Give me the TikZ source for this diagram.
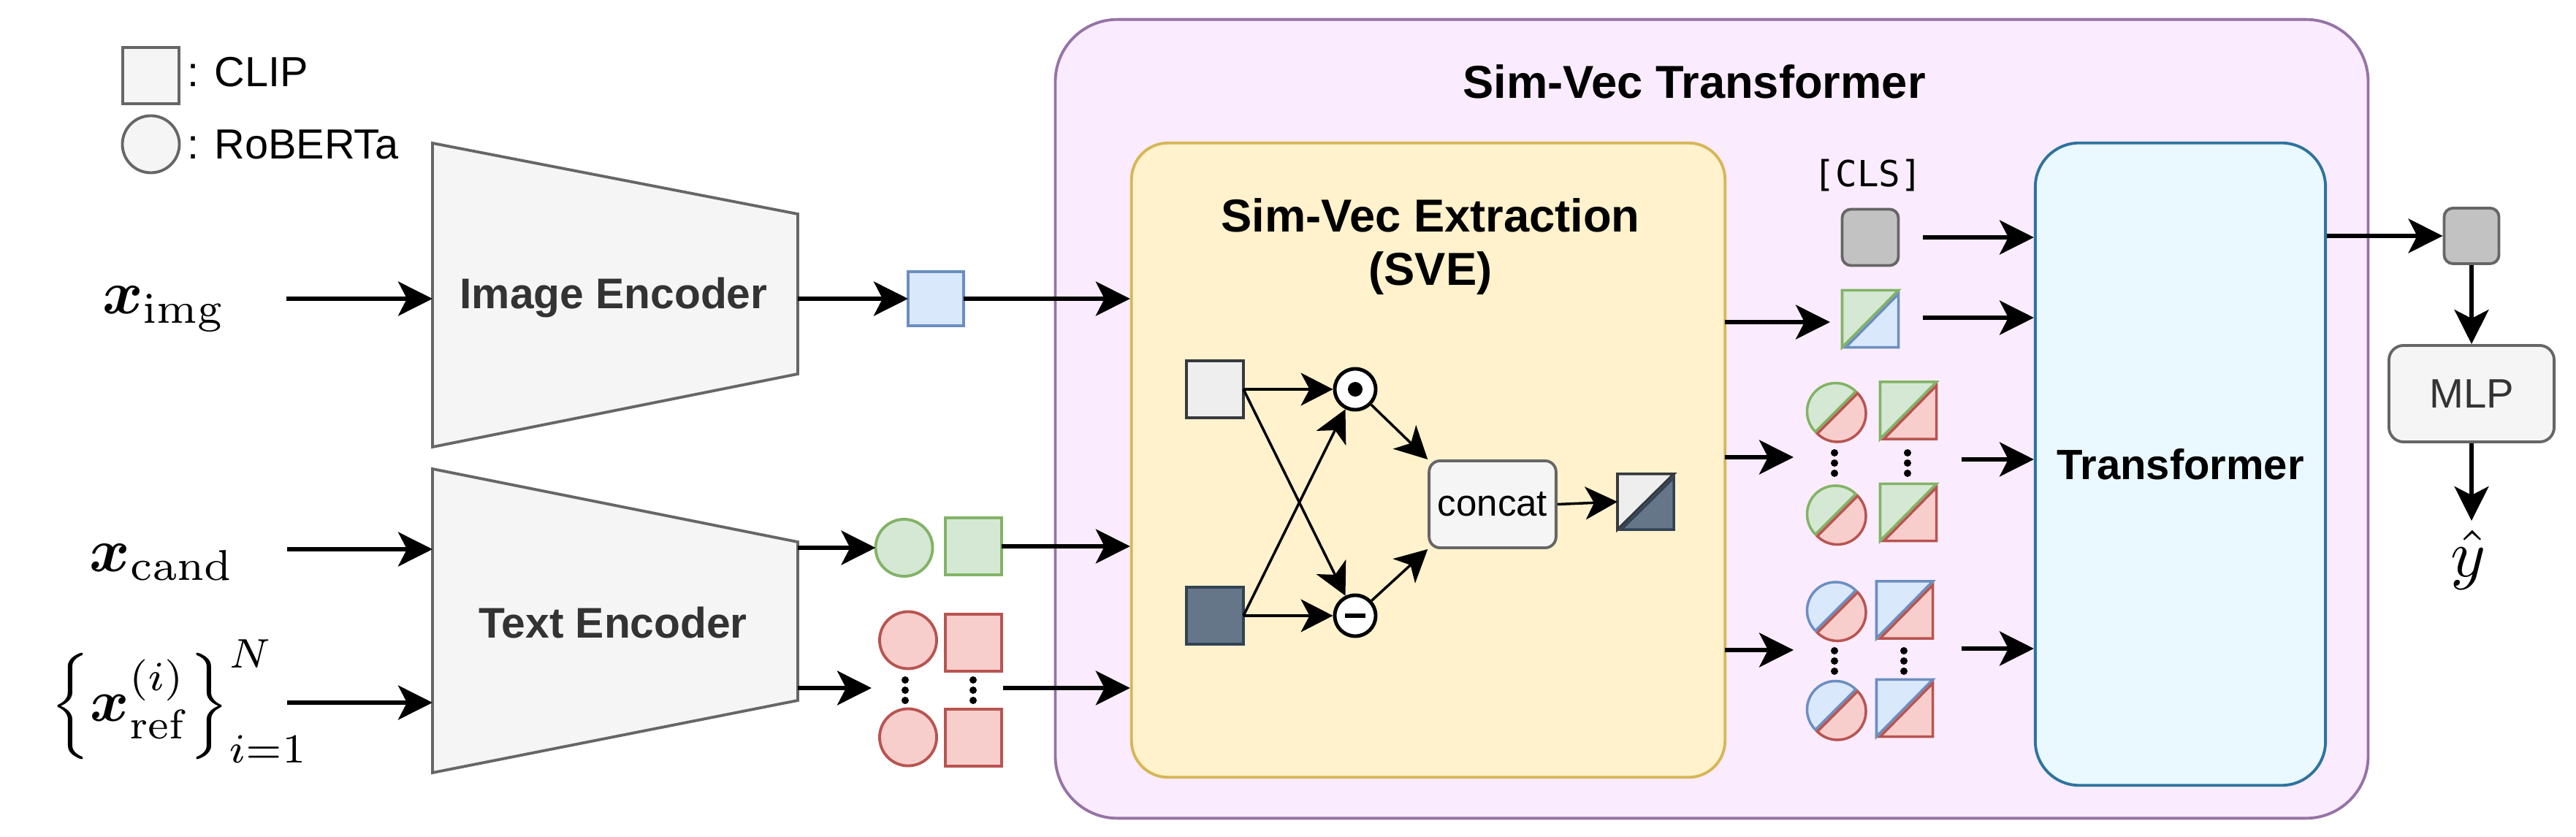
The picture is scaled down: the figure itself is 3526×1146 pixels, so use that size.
\documentclass[tikz,border=0pt]{standalone}
\usepackage{amsmath,bm}
\usepackage[no-math]{fontspec}
\setmainfont{Liberation Sans}
\newfontfamily\monof{DejaVu Sans Mono}
\usetikzlibrary{arrows.meta,calc}
\definecolor{gfill}{HTML}{D5E8D4}\definecolor{gdraw}{HTML}{82B366}
\definecolor{rfill}{HTML}{F8CECC}\definecolor{rdraw}{HTML}{B85450}
\definecolor{bfill}{HTML}{DAE8FC}\definecolor{bdraw}{HTML}{6C8EBF}
\definecolor{lgfill}{HTML}{F5F5F5}\definecolor{lgdraw}{HTML}{666666}
\definecolor{ltfill}{HTML}{EEEEEE}\definecolor{ltdraw}{HTML}{36393D}
\definecolor{dkfill}{HTML}{647687}\definecolor{dkdraw}{HTML}{314354}
\definecolor{clsfill}{HTML}{C2C2C2}
\definecolor{outfill}{HTML}{FAECFE}\definecolor{outdraw}{HTML}{9673A6}
\definecolor{svefill}{HTML}{FFF2CC}\definecolor{svedraw}{HTML}{D6B656}
\definecolor{tffill}{HTML}{EAF8FF}\definecolor{tfdraw}{HTML}{2E739E}
\definecolor{enctext}{HTML}{333333}
\newcommand{\FLeg}{\fontsize{16.4}{19}\selectfont}
\newcommand{\FEnc}{\fontsize{16.7}{20}\selectfont\bfseries}
\newcommand{\FTitle}{\fontsize{18}{21.6}\selectfont\bfseries}
\newcommand{\FConcat}{\fontsize{14.5}{17}\selectfont}
\newcommand{\FTf}{\fontsize{16.5}{20}\selectfont\bfseries}
\newcommand{\FMlp}{\fontsize{16}{19}\selectfont}
\newcommand{\FCls}{\fontsize{14}{17}\selectfont\monof}
\newcommand{\BigMath}[2]{\scalebox{#1}{$#2$}}
\tikzset{
  arr/.style={line width=1.45pt,-{Stealth[length=0.47cm,width=0.47cm,inset=0.12cm]}},
  arrs/.style={line width=1pt,-{Stealth[length=0.44cm,width=0.45cm,inset=0.12cm]}},
  txt/.style={inner sep=0pt,outer sep=0pt},
  sqph/.style={rectangle,inner sep=0pt,outer sep=0pt,minimum width=0.77cm,minimum height=0.78cm},
  circph/.style={circle,inner sep=0pt,outer sep=0pt,minimum size=0.78cm},
  halfline/.style={line width=1pt},
  shp/.style={line width=1.1pt},
  legsq/.style={rectangle,inner sep=0pt,minimum size=0.77cm,fill=lgfill,draw=lgdraw,shp},
  legcirc/.style={circle,inner sep=0pt,minimum size=0.78cm,fill=lgfill,draw=lgdraw,shp},
  encshape/.style={fill=lgfill,draw=lgdraw,shp},
  clsbox/.style={rectangle,rounded corners=0.12cm,inner sep=0pt,minimum width=0.77cm,minimum height=0.77cm,fill=clsfill,draw=lgdraw,shp},
  opc/.style={circle,inner sep=0pt,minimum size=0.56cm,fill=white,draw=black,line width=1.4pt},
  dotm/.style={fill=black},
}
\newcommand{\splitc}[3]{%
  \filldraw[fill=#2fill,draw=#2draw,halfline] (#1.45) arc[start angle=45,end angle=225,radius=0.39cm] -- cycle;
  \filldraw[fill=#3fill,draw=#3draw,halfline] ([shift={(0.025cm,-0.025cm)}]#1.225) arc[start angle=225,end angle=405,radius=0.39cm] -- cycle;
}
\newcommand{\splits}[3]{%
  \filldraw[fill=#2fill,draw=#2draw,halfline] (#1.north west) -- (#1.north east) -- (#1.south west) -- cycle;
  \filldraw[fill=#3fill,draw=#3draw,halfline] ([yshift=-0.05cm]#1.north east) -- (#1.south east) -- ([xshift=0.05cm]#1.south west) -- cycle;
}
\newcommand{\vdotsat}[2]{%
  \foreach \dd in {-14,0,14} {\fill[dotm] (#1,#2+\dd) circle[radius=0.05cm];}
}
\begin{document}
\begin{tikzpicture}[x=0.01cm,y=-0.01cm]
\useasboundingbox[fill=white] (0,0) rectangle (3526,1146);

% ---------- background boxes
\node[rectangle,rounded corners=0.85cm,fill=outfill,draw=outdraw,shp,minimum width=17.96cm,minimum height=10.93cm] (svt) at (2343,573.5) {};
\node[txt,font=\FTitle,anchor=base] (svttitle) at (2319,135) {Sim-Vec Transformer};
\node[rectangle,rounded corners=0.5cm,fill=svefill,draw=svedraw,shp,minimum width=8.12cm,minimum height=8.68cm] (sve) at (1955,630) {};
\node[txt,font=\FTitle,anchor=base] (svet1) at (1958,318) {Sim-Vec Extraction};
\node[txt,font=\FTitle,anchor=base] (svet2) at (1958,391) {(SVE)};
\node[rectangle,rounded corners=0.6cm,fill=tffill,draw=tfdraw,shp,minimum width=3.97cm,minimum height=8.79cm,font=\FTf] (tf) at (2984.5,635.5) {Transformer};

% ---------- legend
\node[legsq] (legsq) at (206.5,103.5) {};
\node[txt,font=\FLeg,anchor=base west] (legclip) at (256,119) {: CLIP};
\node[legcirc] (legcirc) at (206.5,197.5) {};
\node[txt,font=\FLeg,anchor=base west] (legrob) at (256,218) {: RoBERTa};

% ---------- encoders
\draw[encshape] (592,196) -- (1092,293) -- (1092,512) -- (592,612) -- cycle;
\node[txt,font=\FEnc,text=enctext,anchor=base] (ietxt) at (840,423) {Image Encoder};
\draw[encshape] (592,642) -- (1092,742) -- (1092,959) -- (592,1058) -- cycle;
\node[txt,font=\FEnc,text=enctext,anchor=base] (tetxt) at (839,873) {Text Encoder};

% ---------- inputs
\node[txt,anchor=base west] (ximg) at (140,430) {\BigMath{2.4}{\bm{x}_{\mathrm{img}}}};
\coordinate (ximgA) at (392,409);
\coordinate (ieIn) at (592,409);
\draw[arr] (ximgA) -- (ieIn);
\node[txt,anchor=base west] (xcand) at (123,782) {\BigMath{2.4}{\bm{x}_{\mathrm{cand}}}};
\coordinate (xcandA) at (393,752);
\coordinate (teIn1) at (592,752);
\draw[arr] (xcandA) -- (teIn1);
\node[txt,anchor=west] (xref) at (70,960) {\BigMath{2.3}{\left\{\bm{x}_{\mathrm{ref}}^{(i)}\right\}_{i=1}^{N}}};
\coordinate (xrefA) at (393,962);
\coordinate (teIn2) at (592,962);
\draw[arr] (xrefA) -- (teIn2);

% ---------- image embedding
\node[sqph,fill=bfill,draw=bdraw,shp,minimum width=0.76cm,minimum height=0.74cm] (imgemb) at (1281,409) {};
\coordinate (ieOut) at (1092,409);
\draw[arr] (ieOut) -- (imgemb.west);
\draw[arr] (imgemb.east) -- (imgemb.east -| sve.west);

% ---------- text embeddings (candidate)
\node[circph,fill=gfill,draw=gdraw,shp] (gcirc) at (1237.5,750) {};
\node[sqph,fill=gfill,draw=gdraw,shp] (gsq) at (1332.5,748) {};
\coordinate (teOut1) at (1092,750);
\draw[arr] (teOut1) -- (gcirc.west);
\draw[arr] (gsq.east) -- (gsq.east -| sve.west);

% ---------- text embeddings (references)
\node[circph,fill=rfill,draw=rdraw,shp] (rc1) at (1243,876.5) {};
\node[circph,fill=rfill,draw=rdraw,shp] (rc2) at (1243,1009.5) {};
\node[sqph,fill=rfill,draw=rdraw,shp] (rs1) at (1332.5,880) {};
\node[sqph,fill=rfill,draw=rdraw,shp] (rs2) at (1332.5,1010) {};
\vdotsat{1239}{945}
\vdotsat{1332}{945}
\coordinate (teOut2) at (1092,942);
\coordinate (redIn) at (1193,942);
\draw[arr] (teOut2) -- (redIn);
\coordinate (redOut) at (1373,942);
\draw[arr] (redOut) -- (redOut -| sve.west);

% ---------- inside SVE
\node[sqph,fill=ltfill,draw=ltdraw,shp,minimum width=0.78cm] (lsq) at (1663,533) {};
\node[sqph,fill=dkfill,draw=dkdraw,shp,minimum width=0.78cm] (dsq) at (1663,843) {};
\node[opc] (odot) at (1855,533) {};
\fill (odot.center) circle[radius=0.1cm];
\node[opc] (ominus) at (1855,843) {};
\draw[line width=1.5pt] ($(ominus.center)+(-0.14cm,0)$) -- ($(ominus.center)+(0.14cm,0)$);
\node[rectangle,rounded corners=0.15cm,fill=lgfill,draw=lgdraw,shp,minimum width=1.70cm,minimum height=1.19cm,font=\FConcat] (concat) at (2043,690.5) {concat};
\node[sqph,minimum width=0.77cm,minimum height=0.76cm] (res) at (2252.5,687) {};
\splits{res}{lt}{dk}
\draw[arrs] (lsq.east) -- (odot);
\draw[arrs] (dsq.east) -- (ominus);
\draw[arrs] (lsq.east) -- (ominus);
\draw[arrs] (dsq.east) -- (odot);
\draw[arrs] (odot) -- (concat.north west);
\draw[arrs] (ominus) -- (concat.south west);
\draw[arrs] (concat.east) -- (res.west);

% ---------- SVE outputs: CLS
\node[clsbox] (cls) at (2560,325) {};
\node[txt,font=\FCls,anchor=base] (clstxt) at (2557,256) {[CLS]};
\coordinate (clsA) at (2632,325);
\draw[arr] (clsA) -- (clsA -| tf.west);

% image-candidate sim-vec
\node[sqph] (gb) at (2560,436.5) {};
\splits{gb}{g}{b}
\coordinate (sveO1) at (2361,441);
\coordinate (gbIn) at (2505,441);
\draw[arr] (sveO1) -- (gbIn);
\coordinate (gbA) at (2632,435);
\draw[arr] (gbA) -- (gbA -| tf.west);

% candidate-reference sim-vecs
\node[circph] (grc1) at (2512.5,563.5) {};
\node[circph] (grc2) at (2512.5,704) {};
\node[sqph] (grs1) at (2612,562) {};
\node[sqph] (grs2) at (2612,701.5) {};
\splitc{grc1}{g}{r}
\splitc{grc2}{g}{r}
\splits{grs1}{g}{r}
\splits{grs2}{g}{r}
\vdotsat{2511}{634}
\vdotsat{2611}{634}
\coordinate (sveO2) at (2361,626);
\coordinate (grIn) at (2455,626);
\draw[arr] (sveO2) -- (grIn);
\coordinate (grA) at (2685,629);
\draw[arr] (grA) -- (grA -| tf.west);

% image-reference sim-vecs
\node[circph] (brc1) at (2512.5,836) {};
\node[circph] (brc2) at (2512.5,971.5) {};
\node[sqph] (brs1) at (2607,835) {};
\node[sqph] (brs2) at (2607,969.5) {};
\splitc{brc1}{b}{r}
\splitc{brc2}{b}{r}
\splits{brs1}{b}{r}
\splits{brs2}{b}{r}
\vdotsat{2511}{905}
\vdotsat{2606}{905}
\coordinate (sveO3) at (2361,890);
\coordinate (brIn) at (2455,890);
\draw[arr] (sveO3) -- (brIn);
\coordinate (brA) at (2685,888);
\draw[arr] (brA) -- (brA -| tf.west);

% ---------- output head
\node[clsbox,minimum width=0.75cm,minimum height=0.76cm] (outc) at (3383,323) {};
\draw[arr] (outc.west -| tf.east) -- (outc.west);
\node[rectangle,rounded corners=0.2cm,fill=lgfill,draw=lgdraw,shp,minimum width=2.26cm,minimum height=1.32cm,font=\FMlp,text=enctext] (mlp) at (3383,539) {MLP};
\draw[arr] (outc.south) -- (mlp.north);
\coordinate (yA) at (3383,713);
\draw[arr] (mlp.south) -- (yA);
\node[txt] (yhat) at (3379,767) {\BigMath{2.6}{\hat{y}}};
\end{tikzpicture}
\end{document}
